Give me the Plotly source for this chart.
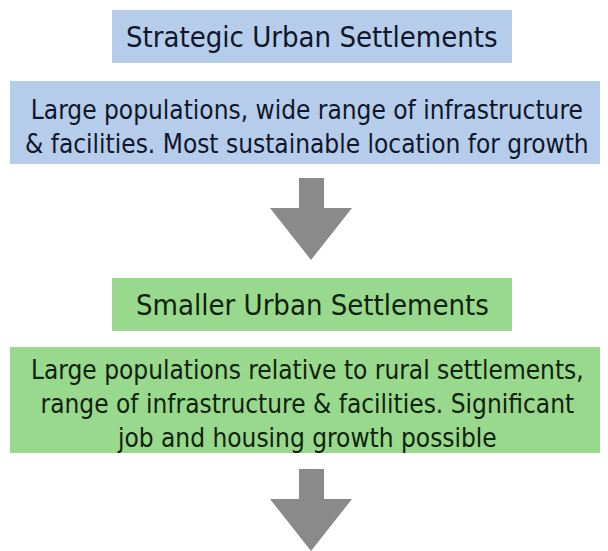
"""Settlement hierarchy flow diagram."""
import plotly.graph_objects as go

W, H = 608, 551
PAGE_MARGIN = 8  # browser body margin around the plot div

# box contents, top to bottom
TITLES = ["Strategic Urban Settlements", "Smaller Urban Settlements"]
DESCRIPTIONS = [
    "Large populations, wide range of infrastructure<br>& facilities. Most sustainable location for growth",
    "Large populations relative to rural settlements,<br>range of infrastructure &amp; facilities. Significant<br>job and housing growth possible",
]
FILLS = ["#b5cdea", "#98d98e"]
TEXT_COLORS = ["#10162a", "#10220c"]

# geometry (pixels from top-left of the page)
TITLE_BOXES = [(112, 512, 10, 63), (112, 512, 278, 331)]
DESC_BOXES = [(10, 610, 81, 164), (10, 610, 347, 453)]
ARROWS = [(178, 208, 260), (469, 499, 551)]  # shaft top, head top, tip
SHAFT = (299, 324)
HEAD = (270, 352)

FONT = "DejaVu Sans Condensed, DejaVu Sans, sans-serif"

fig = go.Figure()
shapes = []
annotations = []

for i in range(2):
    x0, x1, y0, y1 = TITLE_BOXES[i]
    shapes.append(dict(type="rect", x0=x0, x1=x1, y0=y0, y1=y1,
                       fillcolor=FILLS[i], line_width=0, layer="below"))
    annotations.append(dict(x=(x0 + x1) / 2, y=(y0 + y1) / 2, text=TITLES[i],
                            showarrow=False, font=dict(size=29, color=TEXT_COLORS[i], family=FONT)))
    x0, x1, y0, y1 = DESC_BOXES[i]
    shapes.append(dict(type="rect", x0=x0, x1=x1, y0=y0, y1=y1,
                       fillcolor=FILLS[i], line_width=0, layer="below"))
    annotations.append(dict(x=307, y=(y0 + y1) / 2 + 4, text=DESCRIPTIONS[i],
                            showarrow=False, align="center",
                            font=dict(size=26, color=TEXT_COLORS[i], family=FONT)))

for top, head_top, tip in ARROWS:
    sx0, sx1 = SHAFT
    hx0, hx1 = HEAD
    path = (f"M {sx0},{top} L {sx1},{top} L {sx1},{head_top} L {hx1},{head_top} "
            f"L {(hx0 + hx1) / 2},{tip} L {hx0},{head_top} L {sx0},{head_top} Z")
    shapes.append(dict(type="path", path=path, fillcolor="#8a8a8a", line_width=0))

fig.update_layout(
    width=W - PAGE_MARGIN, height=H - PAGE_MARGIN,
    margin=dict(l=0, r=0, t=0, b=0),
    paper_bgcolor="white", plot_bgcolor="white",
    xaxis=dict(range=[PAGE_MARGIN, W], visible=False, fixedrange=True),
    yaxis=dict(range=[H, PAGE_MARGIN], visible=False, fixedrange=True),
    shapes=shapes, annotations=annotations,
    showlegend=False,
)
fig.write_html("out.html", config={"displayModeBar": False})
